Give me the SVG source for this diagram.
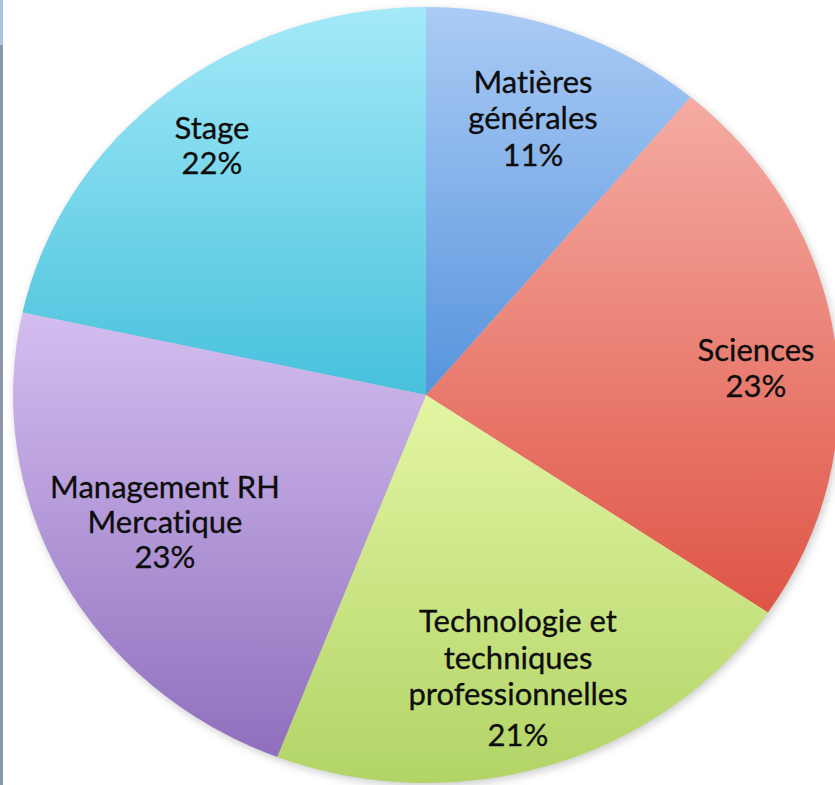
<svg xmlns="http://www.w3.org/2000/svg" width="835" height="785" viewBox="0 0 835 785">
<defs>
<linearGradient id="gStage" gradientUnits="userSpaceOnUse" x1="0" y1="10" x2="0" y2="395"><stop offset="0" stop-color="#a3e9f8"/><stop offset="1" stop-color="#47c1dc"/></linearGradient>
<linearGradient id="gMat" gradientUnits="userSpaceOnUse" x1="0" y1="10" x2="0" y2="395"><stop offset="0" stop-color="#aacbf5"/><stop offset="1" stop-color="#5794dc"/></linearGradient>
<linearGradient id="gSci" gradientUnits="userSpaceOnUse" x1="0" y1="97" x2="0" y2="612"><stop offset="0" stop-color="#f5aca3"/><stop offset="1" stop-color="#df5546"/></linearGradient>
<linearGradient id="gTech" gradientUnits="userSpaceOnUse" x1="0" y1="395" x2="0" y2="783"><stop offset="0" stop-color="#e3f5a3"/><stop offset="1" stop-color="#b2d466"/></linearGradient>
<linearGradient id="gMan" gradientUnits="userSpaceOnUse" x1="0" y1="312" x2="0" y2="757"><stop offset="0" stop-color="#d4bef0"/><stop offset="1" stop-color="#8f6fbd"/></linearGradient>
<filter id="shadow" x="-10%" y="-10%" width="120%" height="120%"><feGaussianBlur stdDeviation="4"/></filter>
</defs>
<style>
text{font-family:Lato,"Open Sans","Liberation Sans",sans-serif;font-size:31px;fill:#0d0d0d;text-anchor:middle;font-variant-ligatures:none;font-feature-settings:"liga" 0;stroke:#0d0d0d;stroke-width:0.3px}
</style>
<rect width="835" height="785" fill="#ffffff"/>
<rect x="0" y="0" width="3" height="785" fill="#8898a8"/>
<rect x="0" y="0" width="3" height="45" fill="#a8c4e0"/>
<ellipse cx="428" cy="398" rx="413" ry="388" fill="#9a9a9a" opacity="0.5" filter="url(#shadow)"/>
<g id="stage">
<path d="M426,395 L22.5,312.5 A413,388 0 0 1 426,7 Z" fill="url(#gStage)"/>
<text x="212" y="139">Stage</text><text x="212" y="174">22%</text>
</g>
<g id="matieres">
<path d="M426,395 L426,7 A413,388 0 0 1 690.6,97.1 Z" fill="url(#gMat)"/>
<text x="533" y="93">Matières</text><text x="533" y="129">générales</text><text x="533" y="166">11%</text>
</g>
<g id="sciences">
<path d="M426,395 L690.6,97.1 A413,388 0 0 1 767.9,612.6 Z" fill="url(#gSci)"/>
<text x="756" y="361">Sciences</text><text x="756" y="397">23%</text>
</g>
<g id="technologie">
<path d="M426,395 L767.9,612.6 A413,388 0 0 1 277.2,757 Z" fill="url(#gTech)"/>
<text x="518" y="632">Technologie et</text><text x="518" y="669">techniques</text><text x="518" y="705">professionnelles</text><text x="518" y="746">21%</text>
</g>
<g id="management">
<path d="M426,395 L277.2,757 A413,388 0 0 1 22.5,312.5 Z" fill="url(#gMan)"/>
<text x="165" y="498">Management RH</text><text x="165" y="533">Mercatique</text><text x="165" y="568">23%</text>
</g>
<g id="connectors"/>
</svg>
